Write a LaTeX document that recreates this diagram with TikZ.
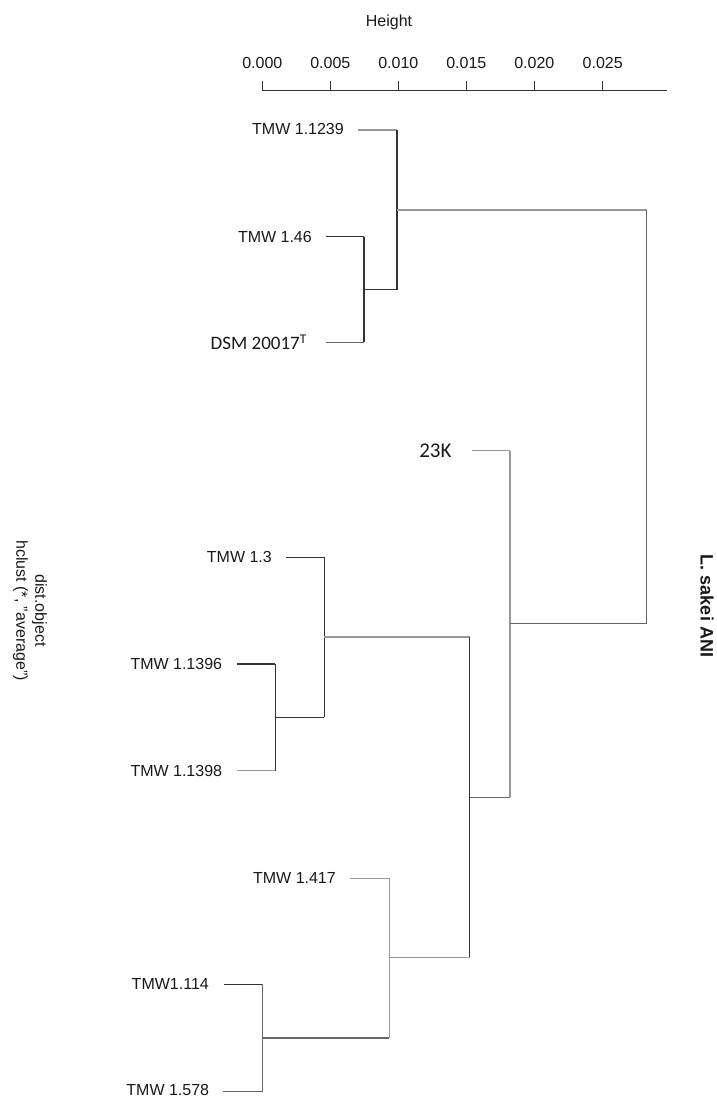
\documentclass[tikz,border=0pt]{standalone}
\usepackage{fontspec}
\setmainfont{Liberation Sans}
\newfontfamily\calfont{Carlito}
\usetikzlibrary{positioning}
\definecolor{dk}{HTML}{333333}
\definecolor{md}{HTML}{666666}
\definecolor{lt}{HTML}{999999}
\tikzset{
  dline/.style={draw=dk, line width=1.2pt},
  mline/.style={draw=md, line width=1.2pt},
  lline/.style={draw=lt, line width=1.2pt},
  lab/.style={inner xsep=0pt, inner ysep=1pt, text=black!90, font=\fontsize{16}{19}\selectfont},
  clab/.style={inner xsep=0pt, inner ysep=1pt, text=black!90},
  axis/.style={draw=dk, line width=1pt},
}
\begin{document}
\begin{tikzpicture}[x=1pt,y=-1pt]
\useasboundingbox (0,0) rectangle (716,1097);
% axis
\node[lab] (hlab) at (389,22.7) {Height};
\coordinate (ax0) at (262.3,91);
\coordinate (ax1) at (666.7,91);
\draw[axis] (ax0) -- (ax1);
\foreach \v/\xx [count=\i] in {0.000/262.3,0.005/330.3,0.010/398.3,0.015/466.3,0.020/534.3,0.025/602.7}{
  \coordinate (tk\i) at (\xx,91);
  \draw[axis] (tk\i) -- ++(0,-9.5);
  \node[lab] (tl\i) at (\xx,63) {\v};
}
% leaf starts
\coordinate (l1239) at (358,130);
\coordinate (l46) at (326,236.7);
\coordinate (ldsm) at (326,342.3);
\coordinate (l23K) at (471.7,450.7);
\coordinate (l13) at (286,557.3);
\coordinate (l1396) at (237.3,664);
\coordinate (l1398) at (237.3,770.7);
\coordinate (l417) at (350,878.3);
\coordinate (l114) at (224,984.3);
\coordinate (l578) at (223.3,1091.7);
% merges
\coordinate (mA) at (364,289.5);
\coordinate (mB) at (397,210);
\coordinate (mD) at (275.3,717.3);
\coordinate (mE) at (324.3,637);
\coordinate (mF) at (262.7,1038);
\coordinate (mG) at (389.3,957.3);
\coordinate (mH) at (469.5,797.3);
\coordinate (mI) at (510,623.5);
\coordinate (mJ) at (646.7,416.8);
% labels
\node[lab, anchor=east] (t1239) at ([xshift=-14pt,yshift=1.5pt]l1239) {TMW 1.1239};
\node[lab, anchor=east] (t46) at ([xshift=-14pt]l46) {TMW 1.46};
\node[clab, anchor=east, font=\calfont\fontsize{19}{22}\selectfont] (tdsm) at ([xshift=-19pt]ldsm) {DSM 20017\textsuperscript{T}};
\node[clab, anchor=east, font=\calfont\fontsize{21}{24}\selectfont] (t23K) at ([xshift=-20pt]l23K) {23K};
\node[lab, anchor=east] (t13) at ([xshift=-14pt]l13) {TMW 1.3};
\node[lab, anchor=east] (t1396) at ([xshift=-15pt]l1396) {TMW 1.1396};
\node[lab, anchor=east] (t1398) at ([xshift=-15pt]l1398) {TMW 1.1398};
\node[lab, anchor=east] (t417) at ([xshift=-14pt]l417) {TMW 1.417};
\node[lab, anchor=east] (t114) at ([xshift=-15pt]l114) {TMW1.114};
\node[lab, anchor=east] (t578) at ([xshift=-14pt,yshift=2pt]l578) {TMW 1.578};
% top cluster
\draw[dline] (l46) -- (l46 -| mA);
\draw[mline] (ldsm) -- (ldsm -| mA);
\draw[dline] (l46 -| mA) -- (ldsm -| mA);
\draw[lline] (l1239) -- (l1239 -| mB);
\draw[dline] (mA) -- (mA -| mB);
\draw[dline] (l1239 -| mB) -- (mA -| mB);
\draw[lline] (mB) -- (mB -| mJ);
% lower cluster
\draw[dline] (l1396) -- (l1396 -| mD);
\draw[lline] (l1398) -- (l1398 -| mD);
\draw[dline] (l1396 -| mD) -- (l1398 -| mD);
\draw[dline] (l13) -- (l13 -| mE);
\draw[dline] (mD) -- (mD -| mE);
\draw[dline] (l13 -| mE) -- (mD -| mE);
\draw[dline] (l114) -- (l114 -| mF);
\draw[mline] (l578) -- (l578 -| mF);
\draw[mline] (l114 -| mF) -- (l578 -| mF);
\draw[lline] (l417) -- (l417 -| mG);
\draw[mline] (mF) -- (mF -| mG);
\draw[lline] (l417 -| mG) -- (mF -| mG);
\draw[lline] (mE) -- (mE -| mH);
\draw[lline] (mG) -- (mG -| mH);
\draw[dline] (mE -| mH) -- (mG -| mH);
\draw[lline] (l23K) -- (l23K -| mI);
\draw[mline] (mH) -- (mH -| mI);
\draw[lline] (l23K -| mI) -- (mH -| mI);
\draw[mline] (mI) -- (mI -| mJ);
\draw[mline] (mB -| mJ) -- (mI -| mJ);
% side titles
\node[lab, rotate=-90, align=center] (dtitle) at (30,610.5) {dist.object\\hclust (*, "average")};
\node[lab, rotate=-90, font=\bfseries\fontsize{18}{21}\selectfont] (rtitle) at (707,606) {L. sakei ANI};
\end{tikzpicture}
\end{document}
